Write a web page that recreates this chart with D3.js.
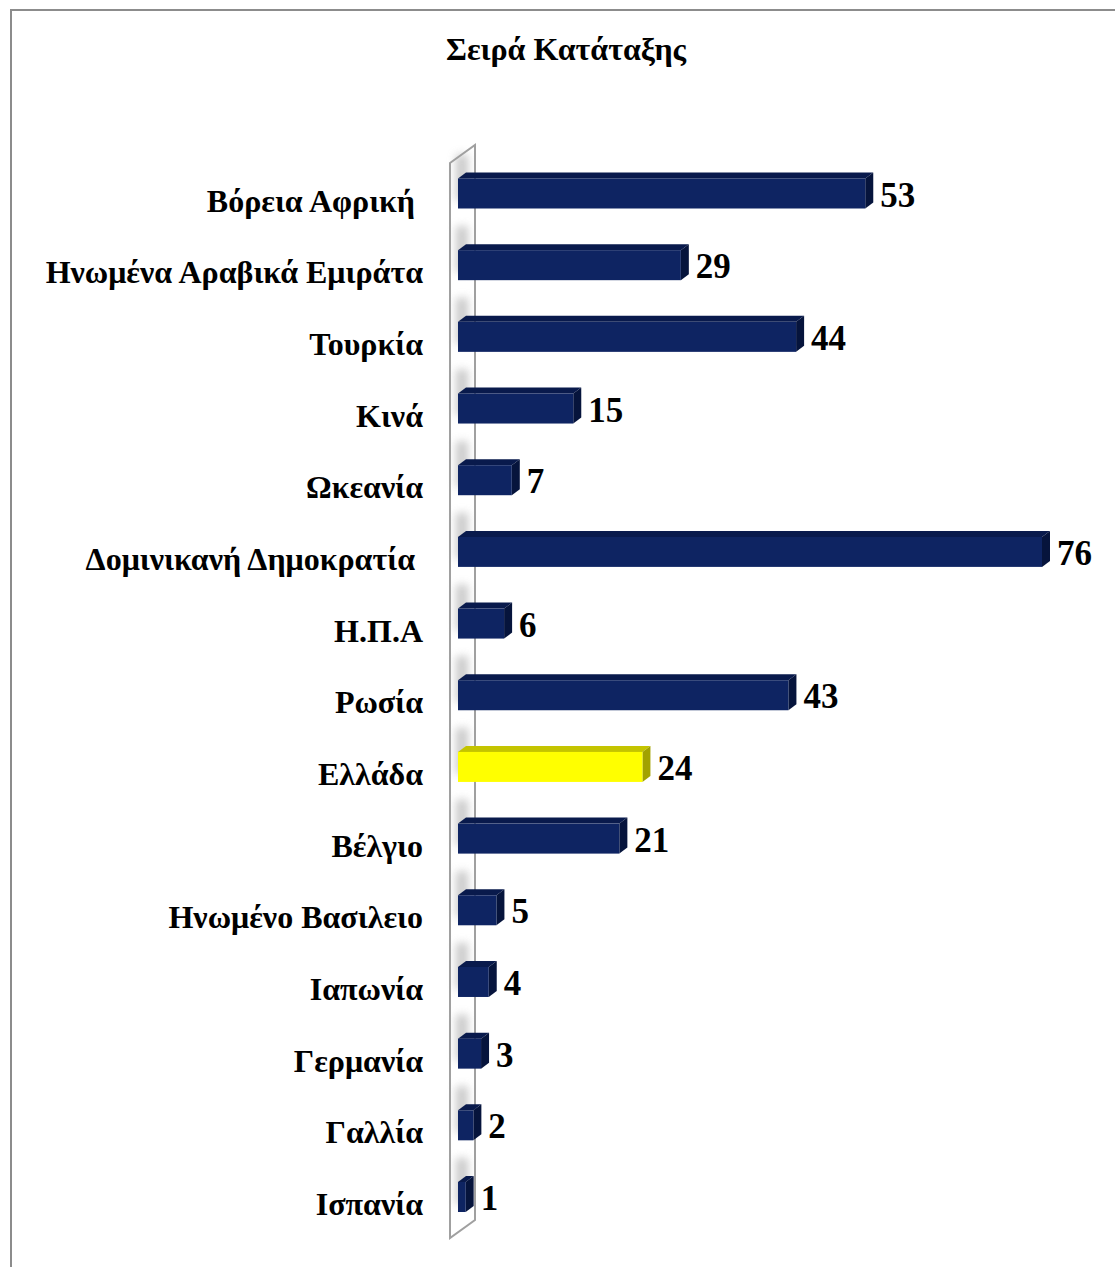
<!DOCTYPE html>
<html>
<head>
<meta charset="utf-8">
<script src="https://cdn.jsdelivr.net/npm/d3@7"></script>
<style>
  html, body { margin: 0; padding: 0; background: #fff; }
  svg { display: block; }
</style>
</head>
<body>
<svg id="chart" width="1115" height="1267"></svg>
<script>
// Ranking positions by destination
const categories = [
  "Βόρεια Αφρική ",
  "Ηνωμένα Αραβικά Εμιράτα",
  "Τουρκία",
  "Κινά",
  "Ωκεανία",
  "Δομινικανή Δημοκρατία ",
  "Η.Π.Α",
  "Ρωσία",
  "Ελλάδα",
  "Βέλγιο",
  "Ηνωμένο Βασιλειο",
  "Ιαπωνία",
  "Γερμανία",
  "Γαλλία",
  "Ισπανία"
];
const values = [53, 29, 44, 15, 7, 76, 6, 43, 24, 21, 5, 4, 3, 2, 1];
const highlighted = ["Ελλάδα"];
const chartTitle = "Σειρά Κατάταξης";

const svg = d3.select("#chart");
const serif = "'Liberation Serif', 'Times New Roman', serif";

// frame of the chart area
svg.append("path")
  .attr("d", "M11,1267 V10 H1115")
  .attr("fill", "none")
  .attr("stroke", "#8c8c8c")
  .attr("stroke-width", 2);

// title
svg.append("text")
  .attr("x", 566).attr("y", 60)
  .attr("text-anchor", "middle")
  .attr("font-family", serif)
  .attr("font-weight", "bold")
  .attr("font-size", 32)
  .attr("fill", "#000")
  .text(chartTitle);

// scales
const x = d3.scaleLinear().domain([0, 76]).range([458, 1042]);
const y = d3.scalePoint().domain(categories).range([193.5, 1197]);
const barH = 30;
const depth = { dx: 8, dy: -6 };

// blur for the shading cast on the side wall
const defs = svg.append("defs");
defs.append("filter").attr("id", "soft")
  .attr("x", "-100%").attr("y", "-100%").attr("width", "300%").attr("height", "300%")
  .append("feGaussianBlur").attr("stdDeviation", 4);

// side wall (3D axis plane)
const wall = svg.append("g");
wall.append("path")
  .attr("d", "M450,163 L475,145 L475,1220 L450,1238 Z")
  .attr("fill", "#fff");

// soft shading on the wall next to each bar
wall.selectAll("rect.shade")
  .data(categories)
  .join("rect")
  .attr("class", "shade")
  .attr("x", 456)
  .attr("y", d => y(d) - barH / 2 - 24)
  .attr("width", 12)
  .attr("height", 46)
  .attr("fill", "#b4b4b4")
  .attr("opacity", 0.7)
  .attr("filter", "url(#soft)");

wall.append("path")
  .attr("d", "M450,163 L475,145 L475,1220 L450,1238 Z")
  .attr("fill", "none")
  .attr("stroke", "#a0a0a0")
  .attr("stroke-width", 2);

// 3D bars
const palette = {
  normal: { front: "#0e2462", top: "#091a4c", side: "#06143c" },
  highlight: { front: "#ffff00", top: "#c4c400", side: "#a2a200" }
};

const rows = categories.map((c, i) => ({ name: c, value: values[i] }));

const bars = svg.append("g").selectAll("g.bar")
  .data(rows)
  .join("g")
  .attr("class", "bar");

bars.each(function (d) {
  const g = d3.select(this);
  const col = highlighted.includes(d.name) ? palette.highlight : palette.normal;
  const x0 = x(0), x1 = x(d.value);
  const yTop = y(d.name) - barH / 2, yBot = y(d.name) + barH / 2;
  // top face
  g.append("path")
    .attr("d", `M${x0},${yTop} L${x0 + depth.dx},${yTop + depth.dy} L${x1 + depth.dx},${yTop + depth.dy} L${x1},${yTop} Z`)
    .attr("fill", col.top);
  // right face
  g.append("path")
    .attr("d", `M${x1},${yTop} L${x1 + depth.dx},${yTop + depth.dy} L${x1 + depth.dx},${yBot + depth.dy} L${x1},${yBot} Z`)
    .attr("fill", col.side);
  // front face
  g.append("rect")
    .attr("x", x0).attr("y", yTop)
    .attr("width", x1 - x0).attr("height", barH)
    .attr("fill", col.front);
});

// value labels
svg.append("g").selectAll("text")
  .data(rows)
  .join("text")
  .attr("x", d => x(d.value) + 15)
  .attr("y", d => y(d.name) + 13)
  .attr("font-family", serif)
  .attr("font-weight", "bold")
  .attr("font-size", 35)
  .attr("fill", "#000")
  .text(d => d.value);

// category labels
svg.append("g").selectAll("text")
  .data(categories)
  .join("text")
  .attr("x", 423)
  .attr("y", d => y(d) + 18)
  .attr("text-anchor", "end")
  .style("white-space", "pre")
  .attr("font-family", serif)
  .attr("font-weight", "bold")
  .attr("font-size", 32)
  .attr("fill", "#000")
  .text(d => d);
</script>
</body>
</html>
